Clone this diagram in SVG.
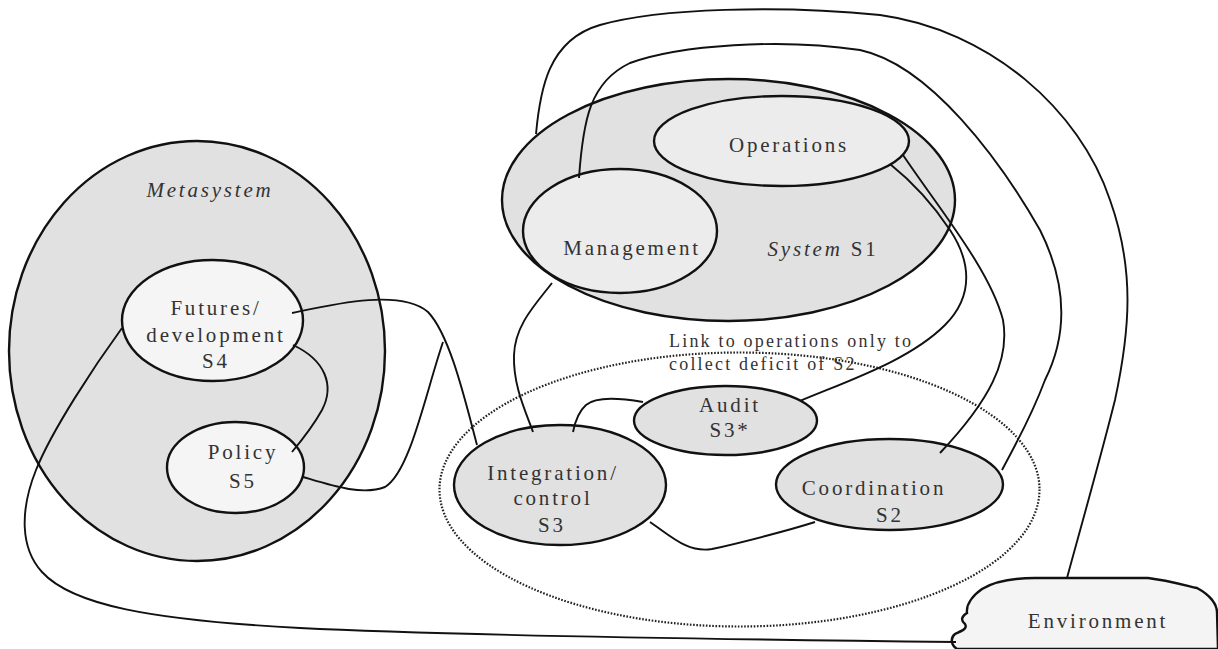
<svg xmlns="http://www.w3.org/2000/svg" width="1218" height="649" viewBox="0 0 1218 649">
<style>
.n{stroke:#111;stroke-width:2.4}
.g{fill:#e1e1e1}
.l{fill:#f5f5f5}
.m{fill:#ececec}
.t{font-family:"Liberation Serif","Times New Roman",serif;font-size:21px;letter-spacing:2.8px;fill:#333;text-anchor:middle}
.i{font-style:italic}
.c{fill:none;stroke:#111;stroke-width:1.9}
</style>
<rect width="1218" height="649" fill="#fff"/>
<g id="metasystem">
<ellipse class="n g" cx="197" cy="351" rx="188" ry="210"/>
<text class="t i" x="210" y="197">Metasystem</text>
</g>
<g id="system-s1">
<ellipse class="n g" cx="728.5" cy="200" rx="226.5" ry="121"/>
<text class="t" x="823" y="256"><tspan class="i">System</tspan> S1</text>
</g>
<g id="s3-group">
<ellipse cx="739.5" cy="489.5" rx="300" ry="137" fill="none" stroke="#222" stroke-width="2.2" stroke-dasharray="1.6 1.6"/>
<text class="t" x="669" y="347" style="font-size:18px;letter-spacing:2.2px;text-anchor:start">Link to operations only to</text>
<text class="t" x="669" y="370" style="font-size:18px;letter-spacing:2.2px;text-anchor:start">collect deficit of S2</text>
</g>
<g id="futures">
<ellipse class="n l" cx="212.5" cy="320.5" rx="90.5" ry="60.5"/>
<text class="t" x="216" y="315">Futures/</text>
<text class="t" x="216" y="342">development</text>
<text class="t" x="216" y="368">S4</text>
</g>
<g id="policy">
<ellipse class="n l" cx="235.5" cy="467.5" rx="68.5" ry="45.5"/>
<text class="t" x="243" y="459">Policy</text>
<text class="t" x="243" y="488">S5</text>
</g>
<g id="operations">
<ellipse class="n m" cx="781.5" cy="141" rx="127.5" ry="45"/>
<text class="t" x="789" y="152">Operations</text>
</g>
<g id="management">
<ellipse class="n m" cx="620" cy="231" rx="97" ry="62"/>
<text class="t" x="632" y="255">Management</text>
</g>
<g id="integration">
<ellipse class="n g" cx="560" cy="485" rx="106" ry="60"/>
<text class="t" x="553" y="480">Integration/</text>
<text class="t" x="553" y="505">control</text>
<text class="t" x="552" y="532">S3</text>
</g>
<g id="audit">
<ellipse class="n g" cx="725.5" cy="420.5" rx="91.5" ry="34.5"/>
<text class="t" x="730" y="412">Audit</text>
<text class="t" x="730" y="437">S3*</text>
</g>
<g id="coordination">
<ellipse class="n g" cx="889.5" cy="484.5" rx="113.5" ry="45.5"/>
<text class="t" x="874" y="495">Coordination</text>
<text class="t" x="890" y="522">S2</text>
</g>
<g id="environment">
<path class="n" fill="#f4f4f4" d="M957 649 C951 645 950 638 955 634 C961 631 968 629 965 624 C960 620 962 616 967 613 C966 605 972 596 982 589 C995 581 1012 578 1035 578 L1148 578 C1165 580 1180 584 1197 588 C1210 595 1217 604 1217 612 L1218 649 Z"/>
<text class="t" x="1098" y="628">Environment</text>
</g>
<g id="connectors">
<path class="c" d="M292 313 C330 305 400 288 428 312 C450 335 465 400 477 445"/>
<path class="c" d="M303 477 C330 485 362 496 385 487 C410 472 425 395 443 342"/>
<path class="c" d="M293 345 C325 360 335 385 322 410 C312 428 302 440 292 452"/>
<path class="c" d="M122 328 C95 365 52 430 36 470 C20 510 20 548 42 572 C72 605 150 620 300 628 C420 634 600 638 956 642"/>
<path class="c" d="M552 283 C535 305 515 325 514 355 C513 385 525 410 533 432"/>
<path class="c" d="M643 402 C620 398 596 396 586 405 C578 412 575 422 573 432"/>
<path class="c" d="M650 522 C672 537 688 553 712 549 C740 543 790 530 815 522"/>
<path class="c" d="M800 401 C850 380 910 360 945 325 C975 295 970 260 950 230 C930 200 910 180 890 164"/>
<path class="c" d="M903 155 C940 210 990 270 1003 320 C1010 360 990 400 940 453"/>
<path class="c" d="M579 178 C583 120 590 82 630 63 C680 45 780 38 860 50 C930 65 1000 160 1040 230 C1070 290 1065 340 1045 380 C1030 420 1015 445 1002 470"/>
<path class="c" d="M536 134 C540 90 548 40 600 25 C660 8 780 5 880 15 C990 30 1080 110 1110 200 C1135 270 1130 330 1115 400 C1100 460 1080 530 1067 578"/>
</g>
</svg>
